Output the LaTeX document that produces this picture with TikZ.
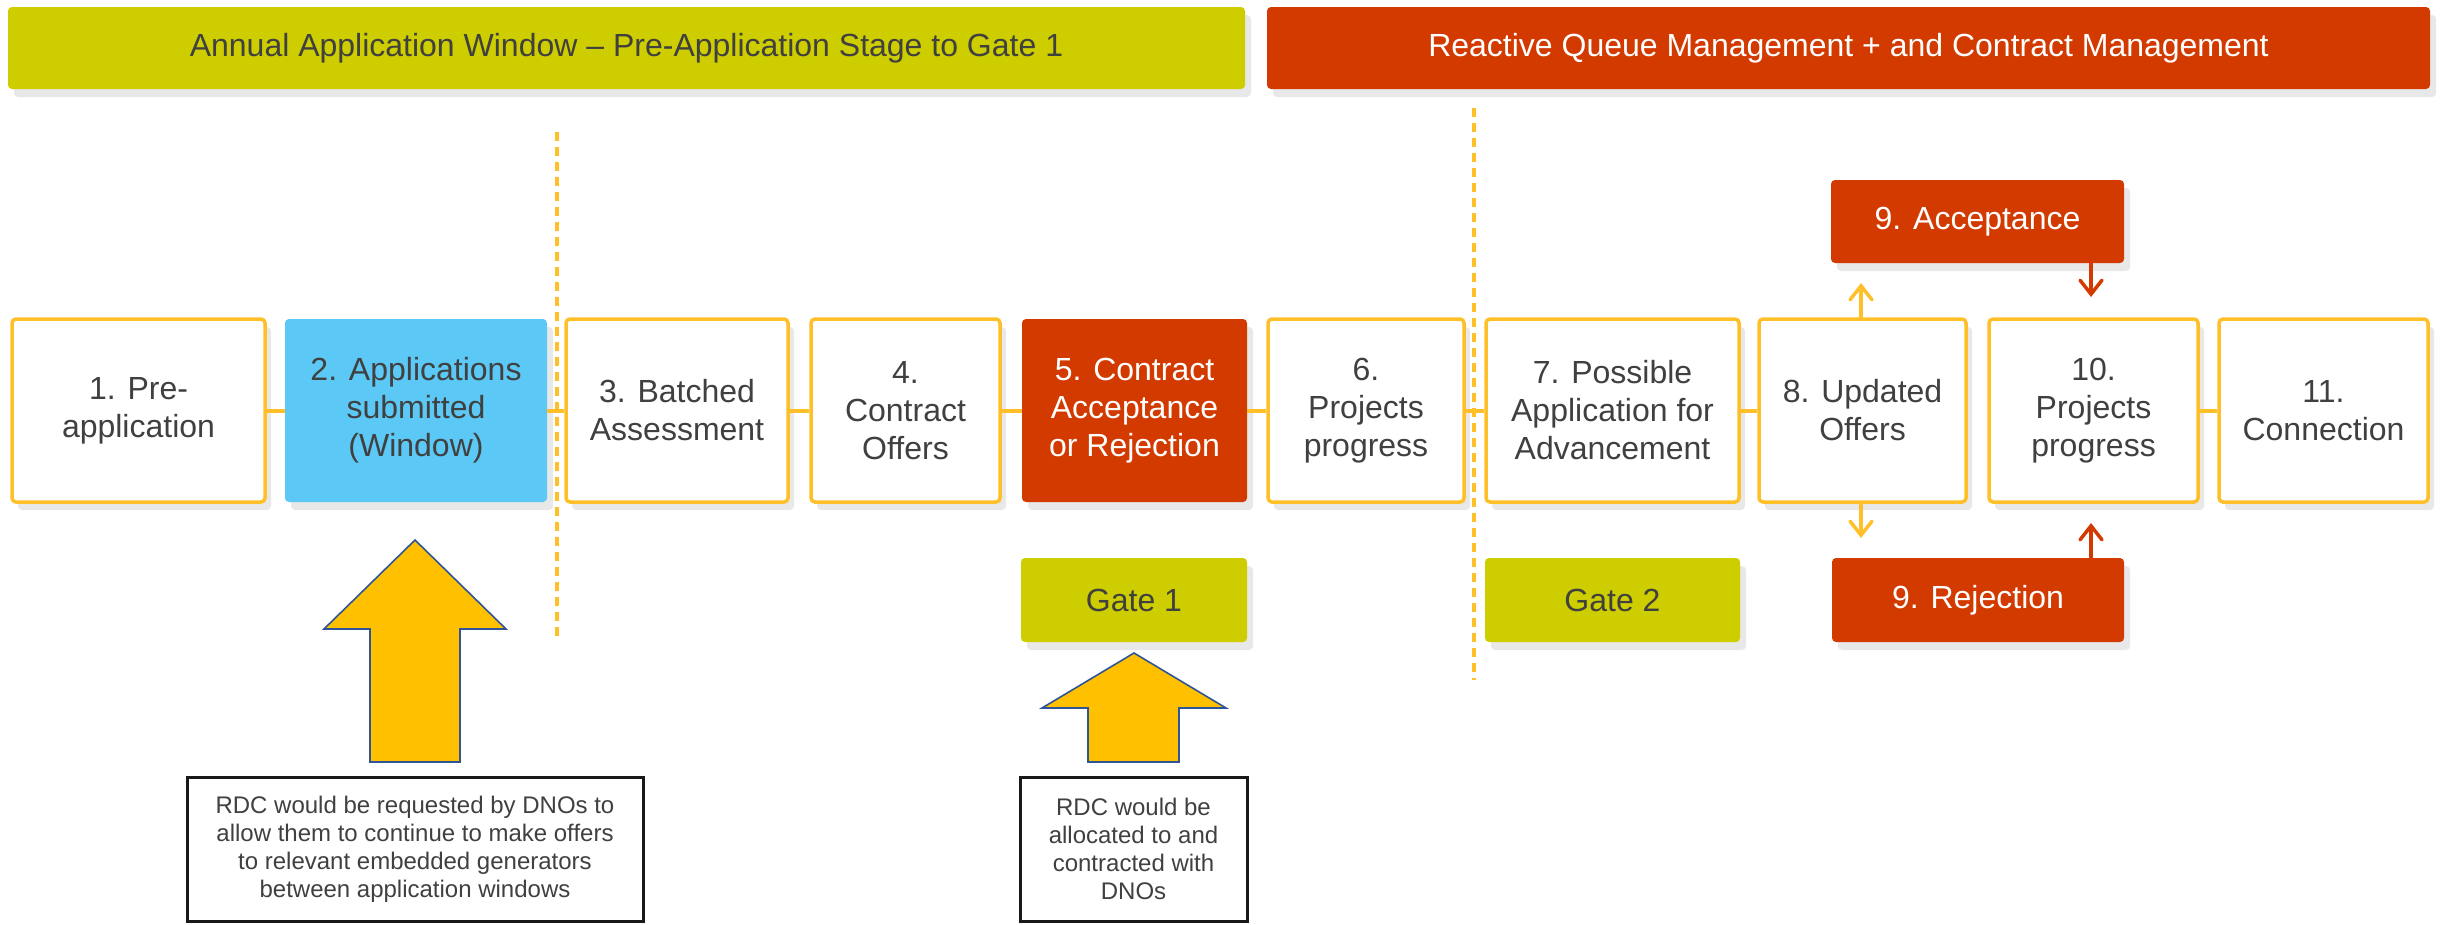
\documentclass[tikz,border=0pt]{standalone}
\usepackage{fontspec}
\setmainfont{Liberation Sans}
\usetikzlibrary{arrows.meta,shadows}
\definecolor{orng}{HTML}{FFBF28}
\definecolor{skyb}{HTML}{5BC8F5}
\definecolor{rust}{HTML}{D23A00}
\definecolor{olive}{HTML}{CDCD00}
\definecolor{txtgray}{HTML}{404040}
\definecolor{shadowc}{HTML}{E8E8E8}
\definecolor{arrfill}{HTML}{FFC000}
\definecolor{arrline}{HTML}{2F5597}
\newcommand{\bigfont}{\fontsize{32}{38}\selectfont}
\newcommand{\smallfont}{\fontsize{24}{28}\selectfont}
\begin{document}
\begin{tikzpicture}[x=1pt,y=-1pt,
  shd/.style={general shadow={fill=shadowc, shadow xshift=6pt, shadow yshift=-8pt}},
  stepbox/.style={draw=orng, line width=3.5pt, fill=white, rounded corners=4pt,
    minimum width=#1, minimum height=183pt, inner sep=0pt, align=center,
    text=txtgray, font=\bigfont, shd},
  filledbox/.style 2 args={fill=#1, rounded corners=4pt, minimum width=#2,
    minimum height=183pt, inner sep=0pt, align=center, font=\bigfont, shd},
  banner/.style 2 args={fill=#1, rounded corners=4pt, minimum width=#2,
    minimum height=82pt, inner sep=0pt, align=center, font=\bigfont, shd},
  tag/.style 2 args={fill=#1, rounded corners=4pt, minimum width=#2,
    minimum height=84pt, inner sep=0pt, align=center, font=\bigfont, shd},
  note/.style={draw=black!90, line width=3pt, fill=white, minimum width=#1,
    minimum height=144pt, inner sep=0pt, align=center, text=txtgray, font=\smallfont},
  link/.style={draw=orng, line width=4pt},
  vdash/.style={draw=orng, line width=3.5pt, dash pattern=on 9pt off 6pt},
  oarrow/.style={draw=orng, line width=3.5pt, line cap=round,
    -{Straight Barb[length=14pt,width=22pt,line cap=round]}},
  rarrow/.style={draw=rust, line width=3.5pt, line cap=round,
    -{Straight Barb[length=14pt,width=22pt,line cap=round]}},
  bigarrow/.style={fill=arrfill, draw=arrline, line width=1.6pt, line join=miter}
]
\useasboundingbox (0,0) rectangle (2440,924);

% dashed separators
\coordinate (d1t) at (557,132);
\coordinate (d1b) at (557,638);
\coordinate (d2t) at (1474,108);
\coordinate (d2b) at (1474,680);
\draw[vdash] (d1t) -- (d1b);
\draw[vdash] (d2t) -- (d2b);

% banners
\node[banner={olive}{1237pt}, text=txtgray] (ban1) at (626.5,48) {Annual Application Window -- Pre-Application Stage to Gate 1};
\node[banner={rust}{1163pt}, text=white] (ban2) at (1848.5,48) {Reactive Queue Management + and Contract Management};

% main row
\node[stepbox=253pt] (b1) at (138.5,410.5) {1. Pre-\\application};
\node[filledbox={skyb}{262pt}, text=txtgray] (b2) at (416,410.5) {2. Applications\\submitted\\(Window)};
\node[stepbox=222pt] (b3) at (677,410.5) {3. Batched\\Assessment};
\node[stepbox=189pt] (b4) at (905.5,410.5) {4.\\Contract\\Offers};
\node[filledbox={rust}{225pt}, text=white] (b5) at (1134.5,410.5) {5. Contract\\Acceptance\\or Rejection};
\node[stepbox=196pt] (b6) at (1366,410.5) {6.\\Projects\\progress};
\node[stepbox=253pt] (b7) at (1612.5,410.5) {7. Possible\\Application for\\Advancement};
\node[stepbox=207pt] (b8) at (1862.5,410.5) {8. Updated\\Offers};
\node[stepbox=209pt] (b10) at (2093.5,410.5) {10.\\Projects\\progress};
\node[stepbox=209pt] (b11) at (2323.5,410.5) {11.\\Connection};

% connectors in row
\draw[link] (b1.east) -- (b2.west);
\draw[link] (b2.east) -- (b3.west);
\draw[link] (b3.east) -- (b4.west);
\draw[link] (b4.east) -- (b5.west);
\draw[link] (b5.east) -- (b6.west);
\draw[link] (b6.east) -- (b7.west);
\draw[link] (b7.east) -- (b8.west);
\draw[link] (b10.east) -- (b11.west);

% acceptance / rejection
\node[tag={rust}{293pt}, minimum height=83pt, text=white] (acc) at (1977.5,221.5) {9. Acceptance};
\node[tag={rust}{292pt}, text=white] (rej) at (1978,600) {9. Rejection};

% gates
\node[tag={olive}{226pt}, text=txtgray] (g1) at (1134,600) {Gate 1};
\node[tag={olive}{255pt}, text=txtgray] (g2) at (1612.5,600) {Gate 2};

% small arrows
\coordinate (upTip) at (1861,283);
\coordinate (downTip) at (1861,538);
\coordinate (accTip) at (2091,297);
\coordinate (rejTip) at (2091,523);
\draw[oarrow] (b8.north -| upTip) -- (upTip);
\draw[oarrow] (b8.south -| downTip) -- (downTip);
\draw[rarrow] (acc.south -| accTip) -- (accTip);
\draw[rarrow] (rej.north -| rejTip) -- (rejTip);

% big arrows
\draw[bigarrow] (415,540) -- (506,629) -- (460,629) -- (460,762) -- (370,762) -- (370,629) -- (324,629) -- cycle;
\draw[bigarrow] (1134,653) -- (1226,708) -- (1179,708) -- (1179,762) -- (1088,762) -- (1088,708) -- (1042,708) -- cycle;

% notes
\node[note=456pt] (nA) at (415,849) {RDC would be requested by DNOs to\\allow them to continue to make offers\\to relevant embedded generators\\between application windows};
\node[note=227pt] (nB) at (1133.5,849) {RDC would be\\allocated to and\\contracted with\\DNOs};
\end{tikzpicture}
\end{document}
